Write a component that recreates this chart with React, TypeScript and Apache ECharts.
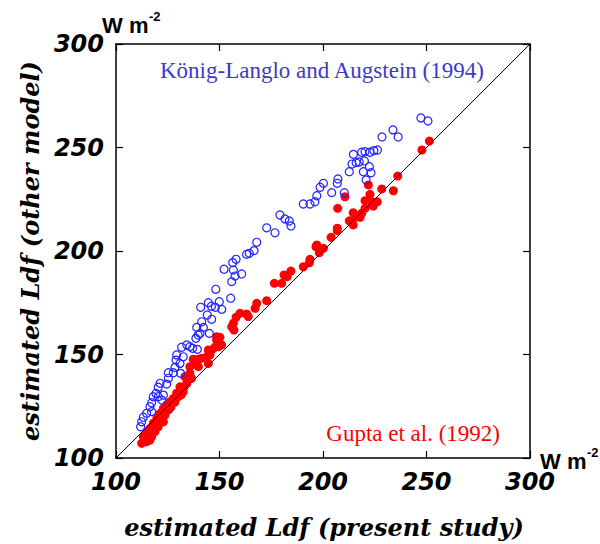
import React, { useEffect, useRef } from "react";
import * as echarts from "echarts";

const xTicks = [100, 150, 200, 250, 300];
const yTicks = [100, 150, 200, 250, 300];

const koenigPoints: number[][] = [
  [247.3, 264.3], [250.7, 262.8], [233.8, 258.5], [236.3, 255.1], [228.5, 255.1],
  [226.3, 248.8], [224.6, 248.5], [222.7, 247.7], [220.3, 248.0], [218.7, 247.7], [214.7, 246.7],
  [216.0, 242.7], [217.5, 243.0], [220.0, 243.5], [214.0, 242.0], [222.4, 240.7], [223.2, 237.8],
  [219.5, 238.3], [212.7, 238.3], [220.8, 234.3],
  [207.2, 234.8], [206.9, 232.7], [210.3, 228.2], [204.2, 228.2], [200.2, 232.7], [198.6, 230.8],
  [197.0, 226.7], [196.1, 223.8], [193.7, 222.7], [190.5, 222.7],
  [179.2, 217.4], [181.6, 215.5], [183.7, 214.5], [184.5, 212.1],
  [172.8, 211.2], [176.8, 208.8],
  [168.0, 204.2], [166.7, 200.2], [164.4, 198.9], [163.1, 198.4],
  [158.0, 196.0], [156.4, 194.4], [156.7, 190.8], [152.2, 191.2], [160.7, 188.9], [157.5, 187.9], [155.9, 185.2],
  [148.2, 181.5], [155.4, 177.2],
  [140.9, 172.8], [144.6, 175.0], [148.0, 172.8], [149.9, 175.5], [151.1, 171.8], [146.1, 173.3],
  [144.1, 169.1], [146.2, 167.0], [141.4, 165.8], [139.0, 163.1], [142.2, 163.1], [145.1, 160.2],
  [140.6, 160.2], [138.6, 157.8], [139.7, 159.4],
  [134.2, 154.6], [135.7, 153.8], [131.7, 153.5], [129.3, 149.8], [132.5, 148.9],
  [139.3, 152.5], [137.0, 153.0], [129.0, 147.3], [130.9, 145.7], [128.5, 143.8], [127.7, 141.2],
  [131.2, 140.9], [125.3, 141.2], [125.3, 138.5], [124.5, 135.7], [121.3, 136.1], [120.4, 134.2],
  [119.3, 131.2], [120.4, 129.6], [118.0, 129.6], [117.2, 126.7], [122.1, 128.0], [122.9, 130.4],
  [116.4, 124.8], [117.2, 122.4], [114.8, 121.6], [113.2, 119.7], [112.4, 117.5], [111.9, 115.1],
];

const guptaPoints: number[][] = [
  [251.4, 253.1], [247.8, 248.8],
  [236.1, 236.2], [234.0, 229.1], [228.4, 230.0], [221.9, 231.9], [222.7, 227.4], [220.3, 224.3],
  [223.5, 223.8], [226.2, 223.8], [224.3, 221.7], [220.3, 220.6], [210.6, 226.2], [207.1, 220.6],
  [214.6, 218.5], [218.7, 218.2], [215.5, 216.3], [217.9, 216.3], [212.7, 214.6], [214.6, 212.6], [206.9, 211.0],
  [203.9, 206.6], [206.9, 209.8], [196.6, 202.1], [200.2, 201.3], [198.2, 199.2], [193.7, 196.0], [197.0, 202.9],
  [193.4, 194.3], [190.5, 192.4], [184.5, 190.3], [182.7, 187.6], [181.2, 188.4], [180.0, 184.4], [176.5, 184.4],
  [172.8, 176.0], [168.0, 174.7], [167.2, 172.3], [163.1, 169.6], [163.9, 168.3], [159.9, 169.9],
  [158.0, 168.0], [156.7, 165.1], [155.9, 163.4], [157.0, 161.8],
  [148.6, 158.6], [150.2, 158.3], [148.6, 157.0], [151.0, 154.6], [147.8, 153.5], [146.2, 152.2],
  [145.4, 149.8], [143.8, 148.9], [149.4, 153.8], [139.8, 147.7], [137.3, 147.7],
  [144.6, 152.2], [141.4, 148.2], [138.2, 146.5], [135.7, 144.1], [144.6, 145.7], [139.8, 144.1],
  [135.7, 140.9], [133.3, 139.3], [134.2, 136.1], [130.9, 134.4], [132.5, 132.0], [129.3, 131.3],
  [127.7, 128.8], [130.1, 129.6], [126.1, 127.2], [124.5, 125.6], [122.9, 124.0], [125.3, 123.2],
  [121.3, 121.6], [123.7, 120.8], [119.7, 119.2], [122.9, 117.5], [118.0, 116.8], [120.4, 115.1],
  [116.4, 114.3], [118.8, 112.7], [114.8, 111.9], [117.2, 110.3], [113.2, 110.3], [112.4, 107.1],
  [114.8, 107.9], [116.4, 108.7], [121.0, 118.0], [119.0, 114.0], [126.5, 124.5], [128.5, 127.0],
  [131.5, 130.5], [133.0, 134.5], [136.5, 138.5], [115.5, 110.0],
];

const diagonal: number[][] = [[100, 100], [300, 300]];

const xTitle = "estimated Ldf (present study)";
const yTitle = "estimated Ldf (other model)";
const blueLabel = "König-Langlo and Augstein (1994)";
const redLabel = "Gupta et al. (1992)";
const unitText = "W m";
const unitSup = "-2";

export default function App() {
  const ref = useRef<HTMLDivElement>(null);
  useEffect(() => {
    document.body.style.margin = "0";
    const chart = echarts.init(ref.current!, null, { renderer: "svg" });
    const tickFont = {
      fontFamily: "DejaVu Sans",
      fontWeight: "bold" as const,
      fontStyle: "italic" as const,
      fontSize: 24,
      color: "#000",
    };
    const baseAxis = (extra: any) => ({
      type: "value",
      min: 100,
      max: 300,
      interval: 50,
      splitLine: { show: false },
      axisLine: { show: true, onZero: false, lineStyle: { color: "#000", width: 1.5 } },
      axisTick: { show: true, inside: true, length: 7, lineStyle: { color: "#000", width: 1.2 } },
      ...extra,
    });
    chart.setOption({
      animation: false,
      grid: { left: 116, top: 44, right: 70, bottom: 86, containLabel: false },
      xAxis: [
        baseAxis({
          position: "bottom",
          axisLabel: { ...tickFont, margin: 12, formatter: (v: number) => (xTicks.includes(v) ? String(v) : "") },
        }),
        baseAxis({ position: "top", axisLabel: { show: false } }),
      ],
      yAxis: [
        baseAxis({
          position: "left",
          axisLabel: { ...tickFont, margin: 12, formatter: (v: number) => (yTicks.includes(v) ? String(v) : "") },
        }),
        baseAxis({ position: "right", axisLabel: { show: false } }),
      ],
      series: [
        {
          type: "scatter",
          data: guptaPoints,
          symbol: "circle",
          symbolSize: 9,
          itemStyle: { color: "#ff0000", opacity: 1 },
          z: 2,
        },
        {
          type: "scatter",
          data: koenigPoints,
          symbol: "circle",
          symbolSize: 8,
          itemStyle: { color: "rgba(0,0,0,0)", borderColor: "#1f1fff", borderWidth: 1.2, opacity: 1 },
          z: 3,
        },
        {
          type: "line",
          data: diagonal,
          symbol: "none",
          lineStyle: { color: "#000", width: 1 },
          z: 4,
        },
      ],
      graphic: [
        {
          type: "text",
          x: 102,
          y: 25,
          style: { text: unitText, fontFamily: "Liberation Sans", fontWeight: "bold", fontSize: 22, fill: "#000", verticalAlign: "middle" },
        },
        {
          type: "text",
          x: 149,
          y: 16,
          style: { text: unitSup, fontFamily: "Liberation Sans", fontWeight: "bold", fontSize: 13, fill: "#000", verticalAlign: "middle" },
        },
        {
          type: "text",
          x: 540,
          y: 461,
          style: { text: unitText, fontFamily: "Liberation Sans", fontWeight: "bold", fontSize: 22, fill: "#000", verticalAlign: "middle" },
        },
        {
          type: "text",
          x: 587,
          y: 452,
          style: { text: unitSup, fontFamily: "Liberation Sans", fontWeight: "bold", fontSize: 13, fill: "#000", verticalAlign: "middle" },
        },
        {
          type: "text",
          x: 160,
          y: 70,
          style: { text: blueLabel, fontFamily: "Liberation Serif", fontSize: 23, fill: "#3a3acc", verticalAlign: "middle" },
        },
        {
          type: "text",
          x: 500,
          y: 433,
          style: { text: redLabel, fontFamily: "Liberation Serif", fontSize: 23, fill: "#ff0000", align: "right", verticalAlign: "middle" },
        },
        {
          type: "text",
          x: 324,
          y: 527,
          style: {
            text: xTitle,
            fontFamily: "DejaVu Serif",
            fontWeight: "bold",
            fontStyle: "italic",
            fontSize: 24,
            fill: "#000",
            align: "center",
            verticalAlign: "middle",
          },
        },
        {
          type: "text",
          x: 30,
          y: 251,
          rotation: Math.PI / 2,
          style: {
            text: yTitle,
            fontFamily: "DejaVu Serif",
            fontWeight: "bold",
            fontStyle: "italic",
            fontSize: 24,
            fill: "#000",
            align: "center",
            verticalAlign: "middle",
          },
        },
      ],
    });
    return () => chart.dispose();
  }, []);
  return <div ref={ref} style={{ width: 600, height: 544 }} />;
}
